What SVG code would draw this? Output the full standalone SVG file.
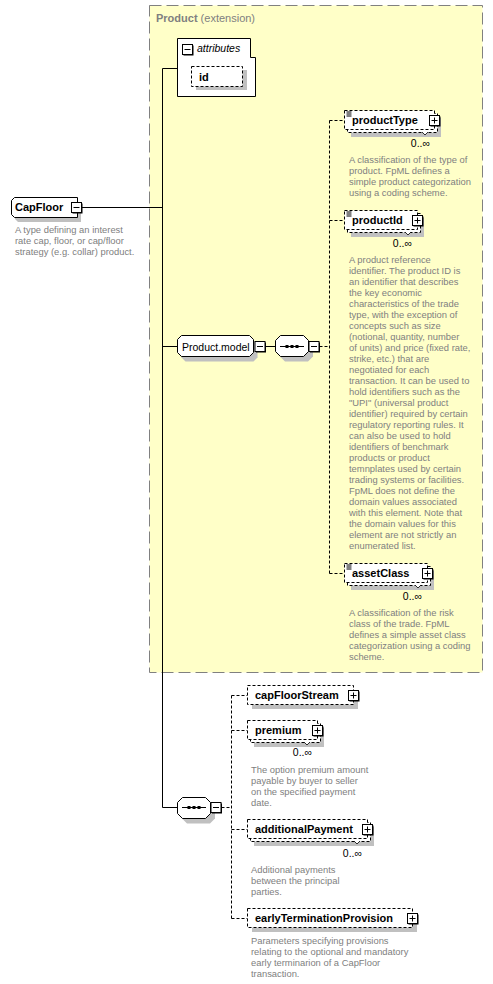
<svg xmlns="http://www.w3.org/2000/svg" xmlns:xlink="http://www.w3.org/1999/xlink" width="493" height="984" viewBox="0 0 493 984">
<style>
.bg{fill:#fff}
.ext{fill:#FFFFC8;stroke:#808080;stroke-width:1;stroke-dasharray:12,5}
.sh{fill:#c0c0c0}
.el{fill:#fff;stroke:#000;stroke-width:1;stroke-dasharray:3,2}
.so{fill:#fff;stroke:#000;stroke-width:1}
.ln{stroke:#000;stroke-width:1;fill:none}
.dl{stroke:#000;stroke-width:1;fill:none;stroke-dasharray:3,2}
.nm{font-family:"Liberation Sans",Arial,sans-serif;font-size:11px;font-weight:bold;fill:#000}
.hd{font-family:"Liberation Sans",Arial,sans-serif;font-size:11px;fill:#808080}
.lb{font-family:"Liberation Sans",Arial,sans-serif;font-size:10.5px;fill:#000}
.ds{font-family:"Liberation Sans",Arial,sans-serif;font-size:9.4px;fill:#808080}
.oc{font-family:"Liberation Sans",Arial,sans-serif;font-size:10.5px;fill:#000;text-anchor:end}
</style>
<defs>
<g id="mbox"><rect x="1.5" y="1.5" width="10" height="10" fill="#000"/><rect x="0.5" y="0.5" width="10" height="10" fill="#fff" stroke="#000"/><line x1="2.5" y1="5.5" x2="8.5" y2="5.5" stroke="#000"/></g>
<g id="pbox"><rect x="1.5" y="1.5" width="10" height="10" fill="#000"/><rect x="0.5" y="0.5" width="10" height="10" fill="#fff" stroke="#000"/><line x1="2.5" y1="5.5" x2="8.5" y2="5.5" stroke="#000"/><line x1="5.5" y1="2.5" x2="5.5" y2="8.5" stroke="#000"/></g>
<g id="doc"><line x1="2" y1="1.5" x2="7" y2="1.5" stroke="#000"/><line x1="2" y1="3.5" x2="7" y2="3.5" stroke="#000"/><line x1="2" y1="5.5" x2="7" y2="5.5" stroke="#000"/></g>
</defs>
<rect class="bg" x="0" y="0" width="493" height="984"/>

<g id="node-product-extension">
<rect class="ext" x="149.5" y="5.5" width="333" height="667"/>
<text x="156" y="22" class="hd"><tspan font-weight="bold">Product</tspan> (extension)</text>
</g>

<g id="connectors">
<line class="ln" x1="82" y1="207.5" x2="162.5" y2="207.5"/>
<line class="ln" x1="162.5" y1="68.5" x2="162.5" y2="807.5"/>
<line class="ln" x1="162.5" y1="68.5" x2="177.5" y2="68.5"/>
<line class="ln" x1="162.5" y1="346.5" x2="177.5" y2="346.5"/>
<line class="ln" x1="265.5" y1="346.5" x2="275.5" y2="346.5"/>
<line class="dl" x1="319.5" y1="346.5" x2="329.5" y2="346.5"/>
<line class="dl" x1="329.5" y1="120.5" x2="329.5" y2="573.5"/>
<line class="dl" x1="329.5" y1="120.5" x2="344.5" y2="120.5"/>
<line class="dl" x1="329.5" y1="220.5" x2="344.5" y2="220.5"/>
<line class="dl" x1="329.5" y1="573.5" x2="344.5" y2="573.5"/>
<line class="ln" x1="162.5" y1="807.5" x2="177.5" y2="807.5"/>
<line class="dl" x1="221.5" y1="807.5" x2="231.5" y2="807.5"/>
<line class="dl" x1="231.5" y1="695.5" x2="231.5" y2="918.5"/>
<line class="dl" x1="231.5" y1="695.5" x2="247.5" y2="695.5"/>
<line class="dl" x1="231.5" y1="730.5" x2="247.5" y2="730.5"/>
<line class="dl" x1="231.5" y1="829.5" x2="247.5" y2="829.5"/>
<line class="dl" x1="231.5" y1="918.5" x2="247.5" y2="918.5"/>
</g>

<g id="node-capfloor">
<path class="sh" d="M18,202 H81 V222 H18 L15,219 V205 Z"/>
<path class="so" d="M14.5,197.5 H77.5 V217.5 H14.5 L11.5,214.5 V200.5 Z"/>
<text x="15" y="211" class="nm">CapFloor</text>
<use xlink:href="#mbox" x="71" y="202"/>
<text class="ds" x="15"><tspan x="15" y="233">A type defining an interest</tspan><tspan x="15" y="244">rate cap, floor, or cap/floor</tspan><tspan x="15" y="255">strategy (e.g. collar) product.</tspan></text>
</g>

<g id="node-attributes">
<path class="so" d="M177.5,38.5 H250.5 V57.5 H255.5 V96.5 H177.5 Z"/>
<use xlink:href="#mbox" x="182" y="44"/>
<text x="197" y="52" class="lb" font-style="italic" font-size="11px">attributes</text>
</g>

<g id="node-id">
<rect class="sh" x="196" y="70" width="51" height="20"/>
<rect class="el" x="191.5" y="66.5" width="51" height="20"/>
<text x="199" y="80.5" class="nm">id</text>
</g>

<g id="node-product-model">
<path class="sh" d="M185.5,340.5 H253.5 L257.5,344.5 V357.5 L253.5,361.5 H185.5 L181.5,357.5 V344.5 Z"/>
<path class="so" d="M181.5,335.5 H249.5 L253.5,339.5 V352.5 L249.5,356.5 H181.5 L177.5,352.5 V339.5 Z"/>
<text x="182" y="350.5" class="lb">Product.model</text>
<use xlink:href="#mbox" x="254.5" y="341"/>
</g>

<g id="node-sequence-1">
<path class="sh" d="M285,340.5 H308 L313,345.5 V356.5 L308,361.5 H285 L280,356.5 V345.5 Z"/>
<path class="so" d="M280.5,335.5 H303.5 L308.5,340.5 V351.5 L303.5,356.5 H280.5 L275.5,351.5 V340.5 Z"/>
<line class="ln" x1="280" y1="346.5" x2="304" y2="346.5"/>
<rect x="285.5" y="345" width="3" height="3" fill="#000"/>
<rect x="290.5" y="345" width="3" height="3" fill="#000"/>
<rect x="295.5" y="345" width="3" height="3" fill="#000"/>
<use xlink:href="#mbox" x="308.5" y="341"/>
</g>

<g id="node-productType">
<rect class="sh" x="351" y="118" width="90" height="19"/>
<rect class="el" x="347.5" y="113.5" width="90" height="19"/>
<rect class="el" x="344.5" y="110.5" width="90" height="19"/>
<use xlink:href="#doc" x="344.5" y="110.5"/>
<polyline points="422,132 425,135 428,132" fill="#fff" stroke="#000" stroke-width="0.8"/>
<text x="352" y="124" class="nm">productType</text>
<use xlink:href="#pbox" x="429" y="115"/>
<text x="430" y="147" class="oc">0..∞</text>
<text class="ds"><tspan x="349" y="163">A classification of the type of</tspan><tspan x="349" y="174">product. FpML defines a</tspan><tspan x="349" y="185">simple product categorization</tspan><tspan x="349" y="196">using a coding scheme.</tspan></text>
</g>

<g id="node-productId">
<rect class="sh" x="351" y="218" width="73" height="19"/>
<rect class="el" x="347.5" y="213.5" width="73" height="19"/>
<rect class="el" x="344.5" y="210.5" width="73" height="19"/>
<use xlink:href="#doc" x="344.5" y="210.5"/>
<polyline points="405,232 408,235 411,232" fill="#fff" stroke="#000" stroke-width="0.8"/>
<text x="352" y="224" class="nm">productId</text>
<use xlink:href="#pbox" x="412" y="215"/>
<text x="412" y="247" class="oc">0..∞</text>
<text class="ds"><tspan x="349" y="263">A product reference</tspan><tspan x="349" y="274">identifier. The product ID is</tspan><tspan x="349" y="285">an identifier that describes</tspan><tspan x="349" y="296">the key economic</tspan><tspan x="349" y="307">characteristics of the trade</tspan><tspan x="349" y="318">type, with the exception of</tspan><tspan x="349" y="329">concepts such as size</tspan><tspan x="349" y="340">(notional, quantity, number</tspan><tspan x="349" y="351">of units) and price (fixed rate,</tspan><tspan x="349" y="362">strike, etc.) that are</tspan><tspan x="349" y="373">negotiated for each</tspan><tspan x="349" y="384">transaction. It can be used to</tspan><tspan x="349" y="395">hold identifiers such as the</tspan><tspan x="349" y="406">"UPI" (universal product</tspan><tspan x="349" y="417">identifier) required by certain</tspan><tspan x="349" y="428">regulatory reporting rules. It</tspan><tspan x="349" y="439">can also be used to hold</tspan><tspan x="349" y="450">identifiers of benchmark</tspan><tspan x="349" y="461">products or product</tspan><tspan x="349" y="472">temnplates used by certain</tspan><tspan x="349" y="483">trading systems or facilities.</tspan><tspan x="349" y="494">FpML does not define the</tspan><tspan x="349" y="505">domain values associated</tspan><tspan x="349" y="516">with this element. Note that</tspan><tspan x="349" y="527">the domain values for this</tspan><tspan x="349" y="538">element are not strictly an</tspan><tspan x="349" y="549">enumerated list.</tspan></text>
</g>

<g id="node-assetClass">
<rect class="sh" x="351" y="571" width="83" height="19"/>
<rect class="el" x="347.5" y="566.5" width="83" height="19"/>
<rect class="el" x="344.5" y="563.5" width="83" height="19"/>
<use xlink:href="#doc" x="344.5" y="563.5"/>
<polyline points="415,585 418,588 421,585" fill="#fff" stroke="#000" stroke-width="0.8"/>
<text x="352" y="577" class="nm">assetClass</text>
<use xlink:href="#pbox" x="422" y="568"/>
<text x="422" y="600" class="oc">0..∞</text>
<text class="ds"><tspan x="349" y="616">A classification of the risk</tspan><tspan x="349" y="627">class of the trade. FpML</tspan><tspan x="349" y="638">defines a simple asset class</tspan><tspan x="349" y="649">categorization using a coding</tspan><tspan x="349" y="660">scheme.</tspan></text>
</g>

<g id="node-sequence-2">
<path class="sh" d="M187,802.5 H210 L215,807.5 V818.5 L210,823.5 H187 L182,818.5 V807.5 Z"/>
<path class="so" d="M182.5,797.5 H205.5 L210.5,802.5 V813.5 L205.5,818.5 H182.5 L177.5,813.5 V802.5 Z"/>
<line class="ln" x1="182" y1="807.5" x2="206" y2="807.5"/>
<rect x="187.5" y="806" width="3" height="3" fill="#000"/>
<rect x="192.5" y="806" width="3" height="3" fill="#000"/>
<rect x="197.5" y="806" width="3" height="3" fill="#000"/>
<use xlink:href="#mbox" x="210.5" y="802"/>
</g>

<g id="node-capFloorStream">
<rect class="sh" x="252" y="690" width="106" height="19"/>
<rect class="el" x="247.5" y="685.5" width="106" height="19"/>
<text x="255" y="699" class="nm">capFloorStream</text>
<use xlink:href="#pbox" x="348" y="690"/>
</g>

<g id="node-premium">
<rect class="sh" x="254" y="728" width="70" height="19"/>
<rect class="el" x="250.5" y="723.5" width="70" height="19"/>
<rect class="el" x="247.5" y="720.5" width="70" height="19"/>
<polyline points="304,742 307,745 310,742" fill="#fff" stroke="#000" stroke-width="0.8"/>
<text x="255" y="734" class="nm">premium</text>
<use xlink:href="#pbox" x="312" y="725"/>
<text x="312" y="756" class="oc">0..∞</text>
<text class="ds"><tspan x="251" y="773">The option premium amount</tspan><tspan x="251" y="784">payable by buyer to seller</tspan><tspan x="251" y="795">on the specified payment</tspan><tspan x="251" y="806">date.</tspan></text>
</g>

<g id="node-additionalPayment">
<rect class="sh" x="254" y="827" width="120" height="19"/>
<rect class="el" x="250.5" y="822.5" width="120" height="19"/>
<rect class="el" x="247.5" y="819.5" width="120" height="19"/>
<polyline points="354,841 357,844 360,841" fill="#fff" stroke="#000" stroke-width="0.8"/>
<text x="255" y="833" class="nm">additionalPayment</text>
<use xlink:href="#pbox" x="362" y="824"/>
<text x="362" y="857" class="oc">0..∞</text>
<text class="ds"><tspan x="251" y="873">Additional payments</tspan><tspan x="251" y="884">between the principal</tspan><tspan x="251" y="895">parties.</tspan></text>
</g>

<g id="node-earlyTerminationProvision">
<rect class="sh" x="252" y="913" width="165" height="19"/>
<rect class="el" x="247.5" y="908.5" width="165" height="19"/>
<text x="255" y="922" class="nm">earlyTerminationProvision</text>
<use xlink:href="#pbox" x="407" y="913"/>
<text class="ds"><tspan x="251" y="944">Parameters specifying provisions</tspan><tspan x="251" y="955">relating to the optional and mandatory</tspan><tspan x="251" y="966">early terminarion of a CapFloor</tspan><tspan x="251" y="977">transaction.</tspan></text>
</g>
</svg>
